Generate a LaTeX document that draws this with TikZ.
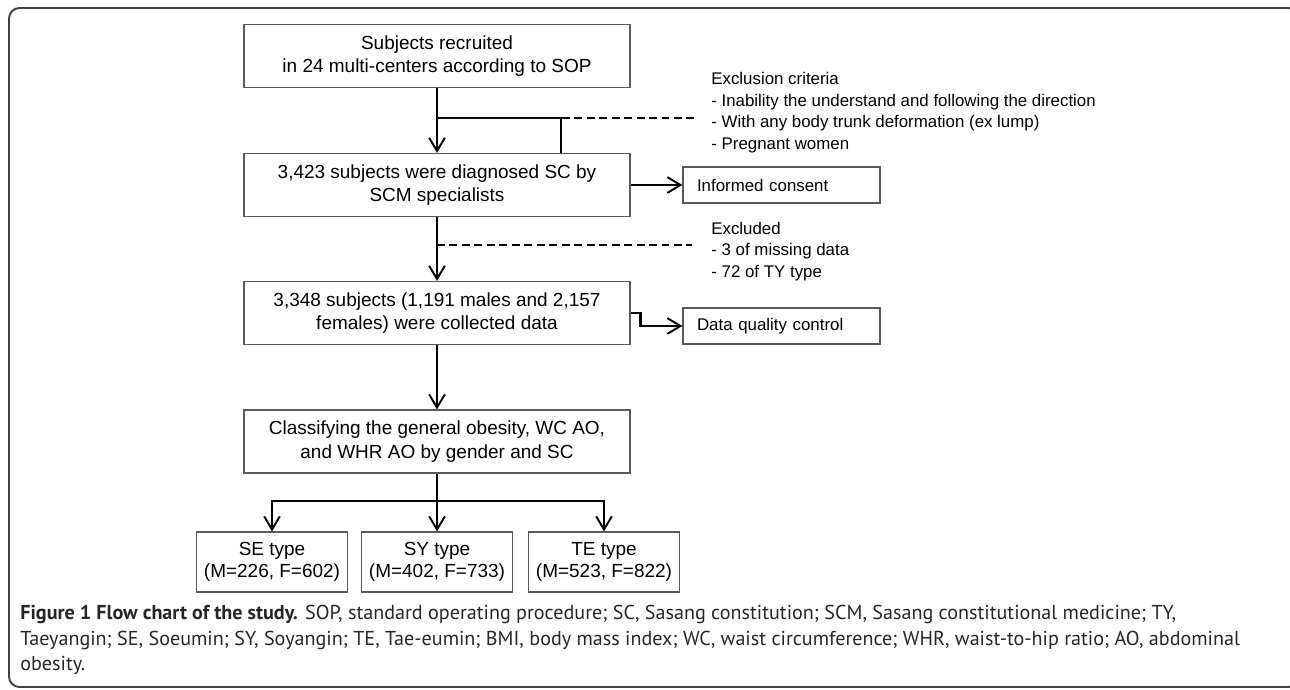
\documentclass[tikz,border=0pt]{standalone}
\usepackage{fontspec}
\setmainfont{Liberation Sans}
\newfontfamily\capfont{PT Sans}
\usetikzlibrary{arrows.meta,positioning}

\begin{document}
\begin{tikzpicture}[x=0.02cm,y=-0.02cm,
    box/.style={draw=black!65,line width=0.75pt,align=center,inner sep=0pt,
      font=\fontsize{10.8pt}{13.3pt}\selectfont},
    mainbox/.style={box,minimum width=7.72cm,minimum height=1.26cm},
    sidebox/.style={box,minimum width=3.94cm,minimum height=0.72cm,text width=3.38cm,
      align=left,inner xsep=0.28cm,font=\fontsize{9.6pt}{12pt}\selectfont},
    typebox/.style={box,minimum width=3.02cm,minimum height=1.2cm,
      font=\fontsize{10.8pt}{12.5pt}\selectfont},
    note/.style={align=left,inner sep=0pt,font=\fontsize{9.6pt}{12.3pt}\selectfont},
    conn/.style={line width=1.3pt},
    arr/.style={conn,-{Straight Barb[length=7.5pt,width=9pt,line width=1.1pt]}},
    exline/.style={line width=1.1pt,dash pattern=on 4.5pt off 2.6pt}]

    \useasboundingbox (0,0) rectangle (1290,689);
    \draw[black!75,line width=1.1pt,rounded corners=6pt] (9,8) rectangle (1299,687);

    % main column
    \node (subj) at (437,56) [mainbox] {Subjects recruited\\in 24 multi-centers according to SOP};
    \node (diag) at (437,185) [mainbox] {3,423 subjects were diagnosed SC by\\SCM specialists};
    \node (coll) at (437,313) [mainbox] {3,348 subjects (1,191 males and 2,157\\females) were collected data};
    \node (clas) at (437,441.5) [mainbox] {Classifying the general obesity, WC AO,\\and WHR AO by gender and SC};

    % side boxes and notes
    \node (cons) at (781.5,185) [sidebox] {Informed consent};
    \node (qual) at (781.5,326) [sidebox] {Data quality control};
    \node (excl) at (711,112.5) [note,anchor=west] {Exclusion criteria\\- Inability the understand and following the direction\\- With any body trunk deformation (ex lump)\\- Pregnant women};
    \node (drop) at (711,251.5) [note,anchor=west] {Excluded\\- 3 of missing data\\- 72 of TY type};

    % the three types
    \node (se) at (272,562) [typebox] {SE type\\(M=226, F=602)};
    \node (sy) at (437,562) [typebox] {SY type\\(M=402, F=733)};
    \node (te) at (604,562) [typebox] {TE type\\(M=523, F=822)};

    \coordinate (j1) at (437,118);
    \coordinate (j2) at (561,118);
    \coordinate (e1) at (695,118);
    \coordinate (j3) at (437,245);
    \coordinate (e2) at (692,245);
    \coordinate (j4) at (437,501);

    \draw[arr] (subj) -- (diag);
    \draw[exline] (j1) -- (e1);
    \draw[conn] (j1) -- (j2) -- (j2 |- diag.north);
    \draw[arr] (diag) -- (cons);
    \draw[arr] (diag) -- (coll);
    \draw[exline] (j3) -- (e2);
    \draw[arr] (coll) -- (clas);
    \draw[arr] (coll.east) -- ++(10,0) |- (qual.west);
    \draw[conn] (clas) -- (j4);
    \draw[conn,line cap=rect] (j4 -| se) -- (j4 -| te);
    \foreach \t in {se,sy,te}
      \draw[arr] (j4 -| \t) -- (\t);

    % caption
    \node (capt) at (20,640) [anchor=west,align=left,inner sep=0pt,text=black!85,
      font=\capfont\fontsize{11.45pt}{14.6pt}\selectfont]
      {\textbf{Figure 1 Flow chart of the study.} SOP, standard operating procedure; SC, Sasang constitution; SCM, Sasang constitutional medicine; TY,\\
       Taeyangin; SE, Soeumin; SY, Soyangin; TE, Tae-eumin; BMI, body mass index; WC, waist circumference; WHR, waist-to-hip ratio; AO, abdominal\\
       obesity.};
\end{tikzpicture}
\end{document}
